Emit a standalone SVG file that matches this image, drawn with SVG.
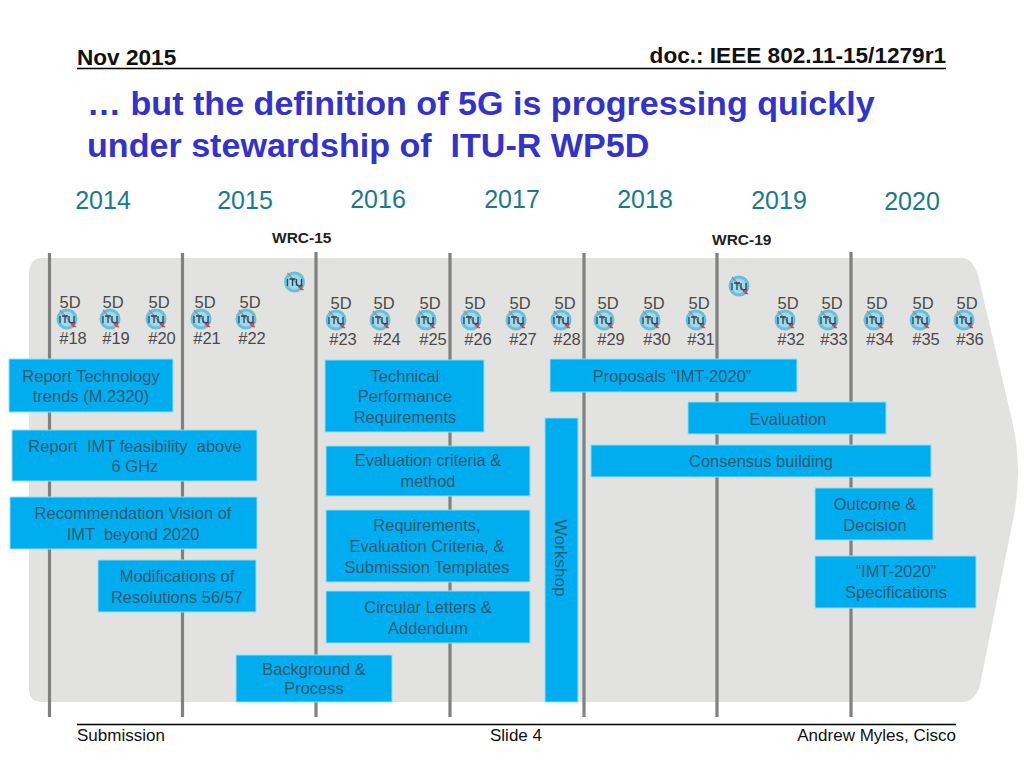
<svg xmlns="http://www.w3.org/2000/svg" width="1024" height="768" viewBox="0 0 1024 768">
<defs>
<g id="itu"><circle r="10.5" fill="#68c0da"/><circle r="7.5" fill="#a4d8e6"/><line x1="-7" y1="-9" x2="8" y2="8" stroke="#a08a9a" stroke-width="1.2"/><path d="M4 5 L9 8 M6 8 L8 3" stroke="#d83a50" stroke-width="1.4" fill="none"/><line x1="-7" y1="-3" x2="-7" y2="4" stroke="#2a4f66" stroke-width="1.4"/><path d="M-5 -3 H1 M-2 -3 V4 M2 -3 V3 Q5 5 7 3 V-3" stroke="#1f4460" stroke-width="1.3" fill="none"/></g>
</defs>
<style>
text{font-family:"Liberation Sans",Arial,sans-serif}
.hd{font-weight:bold;fill:#111;font-size:22.6px}
.ft{fill:#111;font-size:17px}
.ttl{font-weight:bold;fill:#3333cc;font-size:34.1px;white-space:pre}
.yr{fill:#1a7a8c;font-size:25px;text-anchor:middle}
.wrc{font-weight:bold;fill:#222;font-size:15.5px}
.m{fill:#4a4a4a;font-size:16.5px;text-anchor:middle}
.bx{fill:#00adef;stroke:#8fe0f5;stroke-width:1}
.lb{fill:#2f5a74;font-size:16.5px;text-anchor:middle}
.yl{stroke:#808080;stroke-width:3.2;fill:none}
.rl{stroke:#000;stroke-width:1.3}
</style>
<rect width="1024" height="768" fill="#fff"/>
<g id="header">
<text class="hd" x="77" y="65">Nov 2015</text>
<text class="hd" x="946" y="63" text-anchor="end">doc.: IEEE 802.11-15/1279r1</text>
<line class="rl" x1="77" y1="68.500" x2="946" y2="68.500"/>
<text class="ttl" x="87" y="115">… but the definition of 5G is progressing quickly</text>
<text class="ttl" x="87" y="157">under stewardship of  ITU-R WP5D</text>
</g>
<g id="band">
<path d="M42 258 H962 Q972 258 978 275 L1012 420 Q1024 472 1012 525 L980 685 Q975 702 962 702 H42 Q29 702 29 689 V275 Q29 258 42 258Z" fill="#e2e2e0"/>
<text class="yr" x="103" y="209">2014</text>
<text class="yr" x="245" y="209">2015</text>
<text class="yr" x="378" y="208">2016</text>
<text class="yr" x="512" y="208">2017</text>
<text class="yr" x="645" y="208">2018</text>
<text class="yr" x="779" y="209">2019</text>
<text class="yr" x="912" y="210">2020</text>
<text class="wrc" x="272" y="243">WRC-15</text>
<text class="wrc" x="712" y="245">WRC-19</text>
</g>
<g id="connectors">
<line class="yl" x1="49.500" y1="253" x2="49.500" y2="717"/>
<line class="yl" x1="182.500" y1="253" x2="182.500" y2="717"/>
<line class="yl" x1="316" y1="252" x2="316" y2="717"/>
<line class="yl" x1="450" y1="253" x2="450" y2="717"/>
<line class="yl" x1="584" y1="253" x2="584" y2="717"/>
<line class="yl" x1="717" y1="253" x2="717" y2="717"/>
<line class="yl" x1="851" y1="252" x2="851" y2="717"/>
</g>
<g id="meetings">
<use href="#itu" x="294.500" y="282"/>
<use href="#itu" x="739" y="286"/>
<g id="m18"><text class="m" x="70" y="308">5D</text><use href="#itu" x="67" y="319"/><text class="m" x="73" y="344">#18</text></g>
<g id="m19"><text class="m" x="113" y="308">5D</text><use href="#itu" x="110" y="319"/><text class="m" x="116" y="344">#19</text></g>
<g id="m20"><text class="m" x="159" y="308">5D</text><use href="#itu" x="156" y="319"/><text class="m" x="162" y="344">#20</text></g>
<g id="m21"><text class="m" x="205" y="308">5D</text><use href="#itu" x="201" y="319"/><text class="m" x="207" y="344">#21</text></g>
<g id="m22"><text class="m" x="250" y="308">5D</text><use href="#itu" x="246" y="319"/><text class="m" x="252" y="344">#22</text></g>
<g id="m23"><text class="m" x="341" y="309">5D</text><use href="#itu" x="336" y="320"/><text class="m" x="343" y="345">#23</text></g>
<g id="m24"><text class="m" x="384" y="309">5D</text><use href="#itu" x="380" y="320"/><text class="m" x="387" y="345">#24</text></g>
<g id="m25"><text class="m" x="430" y="309">5D</text><use href="#itu" x="426" y="320"/><text class="m" x="433" y="345">#25</text></g>
<g id="m26"><text class="m" x="475" y="309">5D</text><use href="#itu" x="471" y="320"/><text class="m" x="478" y="345">#26</text></g>
<g id="m27"><text class="m" x="520" y="309">5D</text><use href="#itu" x="516" y="320"/><text class="m" x="523" y="345">#27</text></g>
<g id="m28"><text class="m" x="565" y="309">5D</text><use href="#itu" x="561" y="320"/><text class="m" x="567" y="345">#28</text></g>
<g id="m29"><text class="m" x="608" y="309">5D</text><use href="#itu" x="604" y="320"/><text class="m" x="611" y="345">#29</text></g>
<g id="m30"><text class="m" x="654" y="309">5D</text><use href="#itu" x="650" y="320"/><text class="m" x="657" y="345">#30</text></g>
<g id="m31"><text class="m" x="699" y="309">5D</text><use href="#itu" x="696" y="320"/><text class="m" x="701" y="345">#31</text></g>
<g id="m32"><text class="m" x="788" y="309">5D</text><use href="#itu" x="785" y="320"/><text class="m" x="791" y="345">#32</text></g>
<g id="m33"><text class="m" x="832" y="309">5D</text><use href="#itu" x="828" y="320"/><text class="m" x="834" y="345">#33</text></g>
<g id="m34"><text class="m" x="877" y="309">5D</text><use href="#itu" x="874" y="320"/><text class="m" x="880" y="345">#34</text></g>
<g id="m35"><text class="m" x="923" y="309">5D</text><use href="#itu" x="920" y="320"/><text class="m" x="926" y="345">#35</text></g>
<g id="m36"><text class="m" x="967" y="309">5D</text><use href="#itu" x="964" y="320"/><text class="m" x="970" y="345">#36</text></g>
</g>
<g id="n1"><rect class="bx" x="9" y="359" width="164" height="53"/><text class="lb" x="91" y="382">Report Technology</text><text class="lb" x="91" y="402">trends (M.2320)</text></g>
<g id="n2"><rect class="bx" x="12" y="430" width="245" height="51"/><text class="lb" x="135" y="452" style="white-space:pre">Report  IMT feasibility  above</text><text class="lb" x="135" y="472">6 GHz</text></g>
<g id="n3"><rect class="bx" x="10" y="497" width="247" height="52"/><text class="lb" x="133" y="519">Recommendation Vision of</text><text class="lb" x="133" y="540" style="white-space:pre">IMT  beyond 2020</text></g>
<g id="n4"><rect class="bx" x="98" y="560" width="158" height="52"/><text class="lb" x="177" y="582">Modifications of</text><text class="lb" x="177" y="603">Resolutions 56/57</text></g>
<g id="n5"><rect class="bx" x="325" y="360" width="159" height="72"/><text class="lb" x="405" y="382">Technical</text><text class="lb" x="405" y="402">Performance</text><text class="lb" x="405" y="423">Requirements</text></g>
<g id="n6"><rect class="bx" x="326" y="446" width="204" height="50"/><text class="lb" x="428" y="466">Evaluation criteria &amp;</text><text class="lb" x="428" y="487">method</text></g>
<g id="n7"><rect class="bx" x="326" y="510" width="204" height="72"/><text class="lb" x="427" y="531">Requirements,</text><text class="lb" x="427" y="552">Evaluation Criteria, &amp;</text><text class="lb" x="427" y="573">Submission Templates</text></g>
<g id="n8"><rect class="bx" x="326" y="591" width="204" height="52"/><text class="lb" x="428" y="613">Circular Letters &amp;</text><text class="lb" x="428" y="634">Addendum</text></g>
<g id="n9"><rect class="bx" x="236" y="655" width="156" height="47"/><text class="lb" x="314" y="675">Background &amp;</text><text class="lb" x="314" y="694">Process</text></g>
<g id="n10"><rect class="bx" x="545" y="418" width="33" height="284"/><text class="lb" transform="translate(555 558) rotate(90)" style="font-size:17.2px">Workshop</text></g>
<g id="n11"><rect class="bx" x="550" y="359" width="247" height="33"/><text class="lb" x="672" y="382">Proposals “IMT-2020”</text></g>
<g id="n12"><rect class="bx" x="688" y="402" width="198" height="32"/><text class="lb" x="788" y="425">Evaluation</text></g>
<g id="n13"><rect class="bx" x="591" y="445" width="340" height="32"/><text class="lb" x="761" y="467">Consensus building</text></g>
<g id="n14"><rect class="bx" x="815" y="488" width="118" height="52"/><text class="lb" x="875" y="510">Outcome &amp;</text><text class="lb" x="875" y="531">Decision</text></g>
<g id="n15"><rect class="bx" x="815" y="556" width="161" height="52"/><text class="lb" x="896" y="577">“IMT-2020”</text><text class="lb" x="896" y="598">Specifications</text></g>
<g id="footer">
<line class="rl" x1="77" y1="724.500" x2="956" y2="724.500"/>
<text class="ft" x="77" y="741">Submission</text>
<text class="ft" x="490" y="741">Slide 4</text>
<text class="ft" x="956" y="741" text-anchor="end">Andrew Myles, Cisco</text>
</g>
</svg>
